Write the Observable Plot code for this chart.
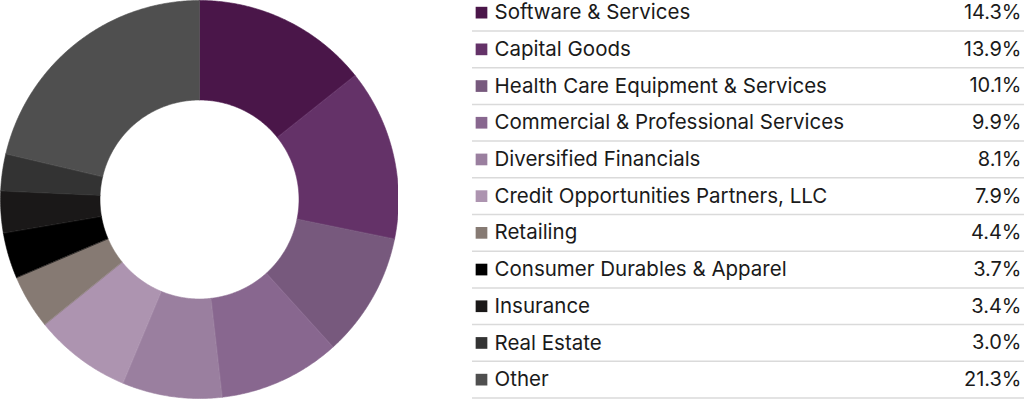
<!DOCTYPE html>
<html>
<head>
<meta charset="utf-8">
<script src="https://cdn.jsdelivr.net/npm/d3@7"></script>
<script src="https://cdn.jsdelivr.net/npm/@observablehq/plot@0.6"></script>
<style>
  html, body { margin: 0; padding: 0; background: #fff; }
  #wrap { position: relative; width: 1024px; height: 399px; overflow: hidden; }
  #donut { position: absolute; left: 0; top: 0; }
  #legend { position: absolute; left: 472px; top: 0; }
  svg { display: block; }
</style>
</head>
<body>
<div id="wrap">
  <div id="donut"></div>
  <div id="legend"></div>
</div>
<script>
const categories = [
  "Software & Services",
  "Capital Goods",
  "Health Care Equipment & Services",
  "Commercial & Professional Services",
  "Diversified Financials",
  "Credit Opportunities Partners, LLC",
  "Retailing",
  "Consumer Durables & Apparel",
  "Insurance",
  "Real Estate",
  "Other"
];
const shares = [14.3, 13.9, 10.1, 9.9, 8.1, 7.9, 4.4, 3.7, 3.4, 3.0, 21.3];
const shareLabels = ["14.3%", "13.9%", "10.1%", "9.9%", "8.1%", "7.9%", "4.4%", "3.7%", "3.4%", "3.0%", "21.3%"];
const colors = ["#4a1649", "#643268", "#77597d", "#88678f", "#9a7f9f", "#ad94b0", "#867a73", "#000000", "#1a1818", "#333333", "#4f4f4f"];

const FONT = "Inter, 'Noto Sans', sans-serif";

// Build annular-sector polygons from the shares (angle from 12 o'clock, clockwise)
const total = d3.sum(shares);
const innerR = 0.5, outerR = 1;
const points = [];
let cum = 0;
categories.forEach((cat, i) => {
  const a0 = cum / total * 2 * Math.PI;
  cum += shares[i];
  const a1 = cum / total * 2 * Math.PI;
  const n = Math.max(2, Math.ceil((a1 - a0) / (Math.PI / 360)));
  for (let j = 0; j <= n; j++) {
    const a = a0 + (a1 - a0) * j / n;
    points.push({cat, x: outerR * Math.sin(a), y: outerR * Math.cos(a)});
  }
  for (let j = n; j >= 0; j--) {
    const a = a0 + (a1 - a0) * j / n;
    points.push({cat, x: innerR * Math.sin(a), y: innerR * Math.cos(a)});
  }
});

const donut = Plot.plot({
  width: 398,
  height: 399,
  marginTop: 0, marginRight: 0, marginLeft: 0, marginBottom: 1,
  x: {domain: [-1, 1], axis: null},
  y: {domain: [-1, 1], axis: null},
  color: {domain: categories, range: colors},
  marks: [
    Plot.line(points, {x: "x", y: "y", z: "cat", fill: "cat", stroke: "cat", strokeWidth: 0.6, curve: "linear-closed"})
  ]
});
document.getElementById("donut").appendChild(donut);

const rows = categories.map((c, i) => ({cat: c, label: shareLabels[i], k: i}));

const legend = Plot.plot({
  width: 552,
  height: 399,
  marginTop: 0, marginRight: 0, marginLeft: 0, marginBottom: 0,
  x: {axis: null, domain: [0, 1]},
  y: {axis: null, domain: [0, 11], range: [-6.2, 397.5]},
  color: {domain: categories, range: colors},
  style: {fontFamily: FONT, color: "#1a1a1a"},
  marks: [
    Plot.ruleY(rows, {y: d => d.k + 1, stroke: "#dadada", strokeWidth: 1.5}),
    Plot.dot(rows, {y: d => d.k + 0.5, frameAnchor: "left", dx: 9, symbol: "square", r: 6.6, fill: "cat", stroke: null}),
    Plot.text(rows, {y: d => d.k + 0.5, text: "cat", frameAnchor: "left", textAnchor: "start", dx: 22, fontSize: 20.5, fill: "#1a1a1a"}),
    Plot.text(rows, {y: d => d.k + 0.5, text: "label", frameAnchor: "right", textAnchor: "end", dx: -3, fontSize: 20, fill: "#1a1a1a"})
  ]
});
document.getElementById("legend").appendChild(legend);
</script>
</body>
</html>
